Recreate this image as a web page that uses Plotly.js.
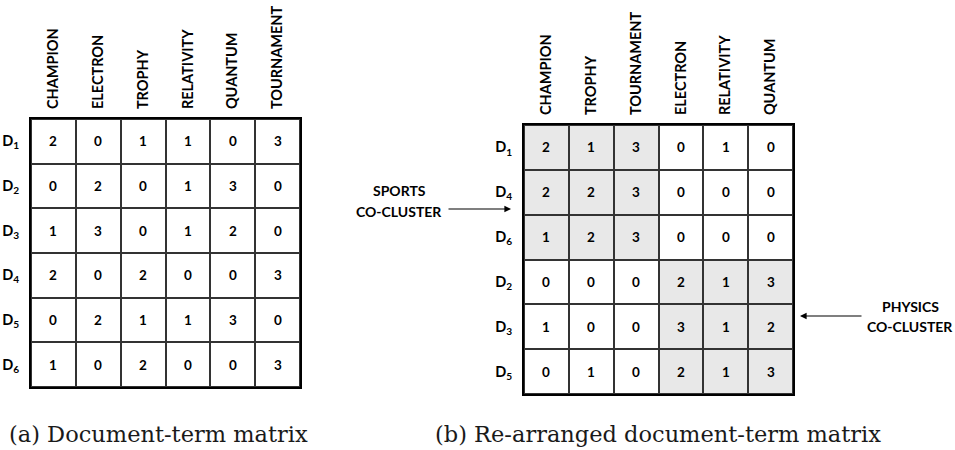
<!DOCTYPE html>
<html><head><meta charset="utf-8">
<script src="https://cdn.plot.ly/plotly-3.0.1.min.js"></script>
<style>html,body{margin:0;padding:0;background:#fff}#chart{width:955px;height:450px}</style>
</head><body><div id="chart"></div>
<script>
// ---- data ----
const terms = ['CHAMPION','ELECTRON','TROPHY','RELATIVITY','QUANTUM','TOURNAMENT'];
const docs = ['D1','D2','D3','D4','D5','D6'];
const counts = [
  [2,0,1,1,0,3],
  [0,2,0,1,3,0],
  [1,3,0,1,2,0],
  [2,0,2,0,0,3],
  [0,2,1,1,3,0],
  [1,0,2,0,0,3]
];
const termOrder = ['CHAMPION','TROPHY','TOURNAMENT','ELECTRON','RELATIVITY','QUANTUM'];
const docOrder = ['D1','D4','D6','D2','D3','D5'];
const sportsTerms = ['CHAMPION','TROPHY','TOURNAMENT'];
const sportsDocs = ['D1','D4','D6'];
const physicsTerms = ['ELECTRON','RELATIVITY','QUANTUM'];
const physicsDocs = ['D2','D3','D5'];
const sportsLabel = ['SPORTS','CO-CLUSTER'];
const physicsLabel = ['PHYSICS','CO-CLUSTER'];
const captions = ['(a) Document-term matrix','(b) Re-arranged document-term matrix'];

// ---- derived ----
const W = 955, H = 450;
const px = v => v / W, py = v => 1 - v / H;
const docTick = d => 'D<sub>' + d.slice(1) + '</sub>';
const val = (d, t) => counts[docs.indexOf(d)][terms.indexOf(t)];

const leftText = docs.map(d => terms.map(t => String(val(d, t))));
const leftZ = docs.map(() => terms.map(() => 0));
const rightText = docOrder.map(d => termOrder.map(t => String(val(d, t))));
const rightZ = docOrder.map(d => termOrder.map(t =>
  ((sportsDocs.includes(d) && sportsTerms.includes(t)) ||
   (physicsDocs.includes(d) && physicsTerms.includes(t))) ? 1 : 0));

const FAM = 'Lato, "Open Sans", sans-serif';
const headFont = {family: FAM, size: 14.5, weight: 700, color: '#000'};
const cellFont = {family: FAM, size: 13.5, weight: 700, color: '#000'};
const rowFont = {family: FAM, size: 14.5, weight: 700, color: '#000'};

function hm(x, y, z, text, xa, ya) {
  return {
    type: 'heatmap', x: x, y: y, z: z, text: text,
    texttemplate: '%{text}', textfont: cellFont,
    colorscale: [[0, '#ffffff'], [1, '#e8e8e8']], zmin: 0, zmax: 1,
    showscale: false, xgap: 2, ygap: 2, hoverinfo: 'skip',
    xaxis: xa, yaxis: ya
  };
}

const data = [
  hm(terms, docs, leftZ, leftText, 'x', 'y'),
  hm(termOrder, docOrder, rightZ, rightText, 'x2', 'y2')
];

function xax(domain, cats) {
  return {domain: domain, side: 'top', type: 'category', categoryarray: cats,
    tickangle: -90, tickfont: headFont, ticks: '', ticklabelstandoff: 5,
    showgrid: false, zeroline: false, showline: true, mirror: true,
    linecolor: '#000', linewidth: 2, fixedrange: true};
}
function yax(domain, cats, anchor) {
  return {domain: domain, type: 'category', categoryarray: cats,
    autorange: 'reversed', tickvals: cats, ticktext: cats.map(docTick),
    tickfont: rowFont, ticks: '', ticklabelstandoff: 7, anchor: anchor,
    showgrid: false, zeroline: false, showline: true, mirror: true,
    linecolor: '#000', linewidth: 2, fixedrange: true};
}

const labelFont = {family: FAM, size: 14, weight: 700, color: '#000'};
const capFont = {family: '"DejaVu Serif", serif', size: 22.5, color: '#1a1a1a'};
const txt = (x, y, t, f) => ({xref: 'paper', yref: 'paper', x: px(x), y: py(y), text: t,
  showarrow: false, font: f, xanchor: 'center', yanchor: 'middle'});
const arrow = (x, y, ax) => ({xref: 'paper', yref: 'paper', x: px(x), y: py(y), text: '',
  showarrow: true, ax: ax, ay: 0, arrowhead: 2, arrowsize: 1.2, arrowwidth: 1.1, arrowcolor: '#000'});

const annotations = [
  txt(158, 434, captions[0], capFont),
  txt(658, 434, captions[1], capFont),
  txt(399, 191, sportsLabel[0], labelFont),
  txt(399, 212, sportsLabel[1], labelFont),
  arrow(511, 209, -64),
  txt(910, 306, physicsLabel[0], labelFont),
  txt(910, 326, physicsLabel[1], labelFont),
  arrow(800, 316, 63)
];

const layout = {
  width: W, height: H,
  margin: {l: 0, r: 0, t: 0, b: 0},
  paper_bgcolor: '#fff', plot_bgcolor: '#333',
  showlegend: false,
  xaxis: xax([px(31), px(300)], terms),
  yaxis: yax([py(387), py(119)], docs, 'x'),
  xaxis2: Object.assign(xax([px(524), px(793)], termOrder), {anchor: 'y2'}),
  yaxis2: yax([py(394), py(125)], docOrder, 'x2'),
  annotations: annotations
};

Plotly.newPlot('chart', data, layout, {displayModeBar: false, staticPlot: true});
</script>
</body></html>
